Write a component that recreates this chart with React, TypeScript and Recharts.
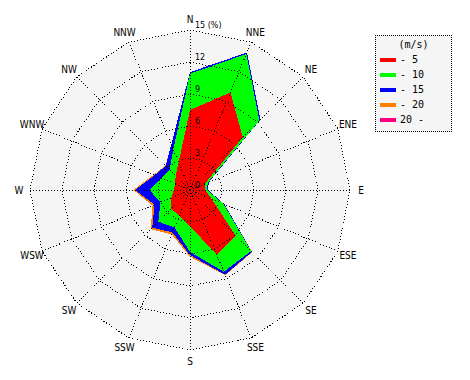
import React from 'react';
import { RadarChart, Radar, PolarGrid, PolarAngleAxis, PolarRadiusAxis, Legend } from 'recharts';

// Wind directions (clockwise from north)
const DIRECTIONS = ['N', 'NNE', 'NE', 'ENE', 'E', 'ESE', 'SE', 'SSE', 'S', 'SSW', 'SW', 'WSW', 'W', 'WNW', 'NW', 'NNW'];

// Frequency (%) of each wind-speed class per direction
const SPEED_UP_TO_5 = [7.5, 9.9, 7.0, 1.5, 1.4, 2.2, 6.1, 6.6, 3.4, 2.6, 2.5, 1.9, 1.5, 1.5, 1.9, 2.8];
const SPEED_5_TO_10 = [3.4, 3.9, 2.2, 0.3, 0.2, 1.2, 2.0, 1.7, 2.4, 1.2, 1.7, 1.1, 2.3, 1.4, 0.8, 1.3];
const SPEED_10_TO_15 = [0.15, 0.15, 0.15, 0.1, 0.1, 0.1, 0.1, 0.3, 0.3, 0.5, 0.8, 0.6, 1.35, 0.7, 0.5, 0.5];
const SPEED_15_TO_20 = [0, 0, 0, 0, 0, 0, 0.05, 0.05, 0.15, 0.2, 0.2, 0.2, 0.15, 0.1, 0.05, 0];
const SPEED_OVER_20 = [0, 0, 0, 0, 0, 0, 0, 0, 0, 0, 0, 0, 0, 0, 0, 0];

const SPEED_CLASSES = ['- 5', '- 10', '- 15', '- 20', '20 -'];
const CLASS_COLORS = ['#ff0000', '#00ff00', '#0000ff', '#ff8000', '#ff0080'];
const LEGEND_TITLE = '(m/s)';
const RADIUS_TICKS = [0, 3, 6, 9, 12, 15];
const RADIUS_MAX = 15;
const RADIUS_UNIT = '(%)';

const BANDS = [SPEED_UP_TO_5, SPEED_5_TO_10, SPEED_10_TO_15, SPEED_15_TO_20, SPEED_OVER_20];

const data = DIRECTIONS.map((dir, i) => {
  const row: Record<string, any> = { dir, frame: RADIUS_MAX };
  let sum = 0;
  BANDS.forEach((band, k) => {
    sum += band[i];
    row['c' + k] = Math.round(sum * 1000) / 1000;
  });
  return row;
});

const AngleTick = (props: any) => {
  const { x, y, payload } = props;
  return (
    <text
      x={x}
      y={y}
      textAnchor="middle"
      dominantBaseline="central"
      fontFamily="'Liberation Sans Narrow', 'DejaVu Sans Condensed', 'Liberation Sans', sans-serif"
      fontSize={10}
      fill="#000"
    >
      {payload.value}
    </text>
  );
};

const RadiusTick = (props: any) => {
  const { x, y, payload } = props;
  const v = payload.value;
  const label = v === RADIUS_MAX ? `${v} ${RADIUS_UNIT}` : `${v}`;
  return (
    <text
      x={x + 5}
      y={y - 2}
      textAnchor="start"
      fontFamily="'DejaVu Sans', sans-serif"
      fontSize={8}
      fill="#000"
    >
      {label}
    </text>
  );
};

const LegendBox = () => (
  <div
    style={{
      width: 77,
      height: 97,
      boxSizing: 'border-box',
      border: '1px dotted #000',
      background: '#f5f5f5',
      fontFamily: "'DejaVu Sans Mono', monospace",
      fontSize: 10,
      color: '#000',
      paddingTop: 2,
    }}
  >
    <div style={{ height: 14, lineHeight: '14px', textAlign: 'center' }}>{LEGEND_TITLE}</div>
    {SPEED_CLASSES.map((c, i) => (
      <div key={c} style={{ height: 15, display: 'flex', alignItems: 'center' }}>
        <span
          style={{
            display: 'inline-block',
            width: 16,
            height: 4,
            background: CLASS_COLORS[i],
            marginLeft: 4,
            marginRight: 4,
          }}
        />
        <span style={{ whiteSpace: 'pre' }}>{c}</span>
      </div>
    ))}
  </div>
);

const chartProps = {
  width: 470,
  height: 380,
  data,
  cx: 190,
  cy: 190,
  outerRadius: 160,
  margin: { top: 0, right: 0, bottom: 0, left: 0 },
};

export default function App() {
  return (
    <div style={{ width: 470, height: 380, background: '#fff', position: 'relative' }}>
      <style>{`body{margin:0} .recharts-surface path, .recharts-surface polygon, .recharts-surface line{shape-rendering:crispEdges}`}</style>
      <div style={{ position: 'absolute', left: 0, top: 0 }}>
        <RadarChart {...chartProps}>
          <PolarRadiusAxis angle={90} domain={[0, RADIUS_MAX]} ticks={RADIUS_TICKS as any} tick={false} axisLine={false} tickLine={false} />
          <Radar dataKey="frame" fill="#f5f5f5" fillOpacity={1} stroke="none" dot={false} isAnimationActive={false} legendType="none" />
          {[4, 3, 2, 1, 0].map((k) => (
            <Radar
              key={k}
              dataKey={'c' + k}
              name={SPEED_CLASSES[k]}
              fill={CLASS_COLORS[k]}
              fillOpacity={1}
              stroke="none"
              dot={false}
              isAnimationActive={false}
            />
          ))}
          <Legend
            content={<LegendBox />}
            layout="vertical"
            align="right"
            verticalAlign="top"
            wrapperStyle={{ left: 375, top: 35, width: 77, height: 97 }}
          />
        </RadarChart>
      </div>
      <div style={{ position: 'absolute', left: 0, top: 0, pointerEvents: 'none' }}>
        <RadarChart {...chartProps}>
          <PolarGrid gridType="polygon" stroke="#000" strokeDasharray="1 2" />
          <PolarAngleAxis dataKey="dir" tick={<AngleTick />} tickLine={false} axisLine={false} tickSize={11} />
          <PolarRadiusAxis
            angle={90}
            domain={[0, RADIUS_MAX]}
            ticks={RADIUS_TICKS as any}
            tickCount={RADIUS_TICKS.length}
            axisLine={false}
            tickLine={false}
            tick={<RadiusTick />}
          />
          <Radar dataKey="frame" fill="none" fillOpacity={0} stroke="none" dot={false} isAnimationActive={false} legendType="none" />
        </RadarChart>
      </div>
    </div>
  );
}
